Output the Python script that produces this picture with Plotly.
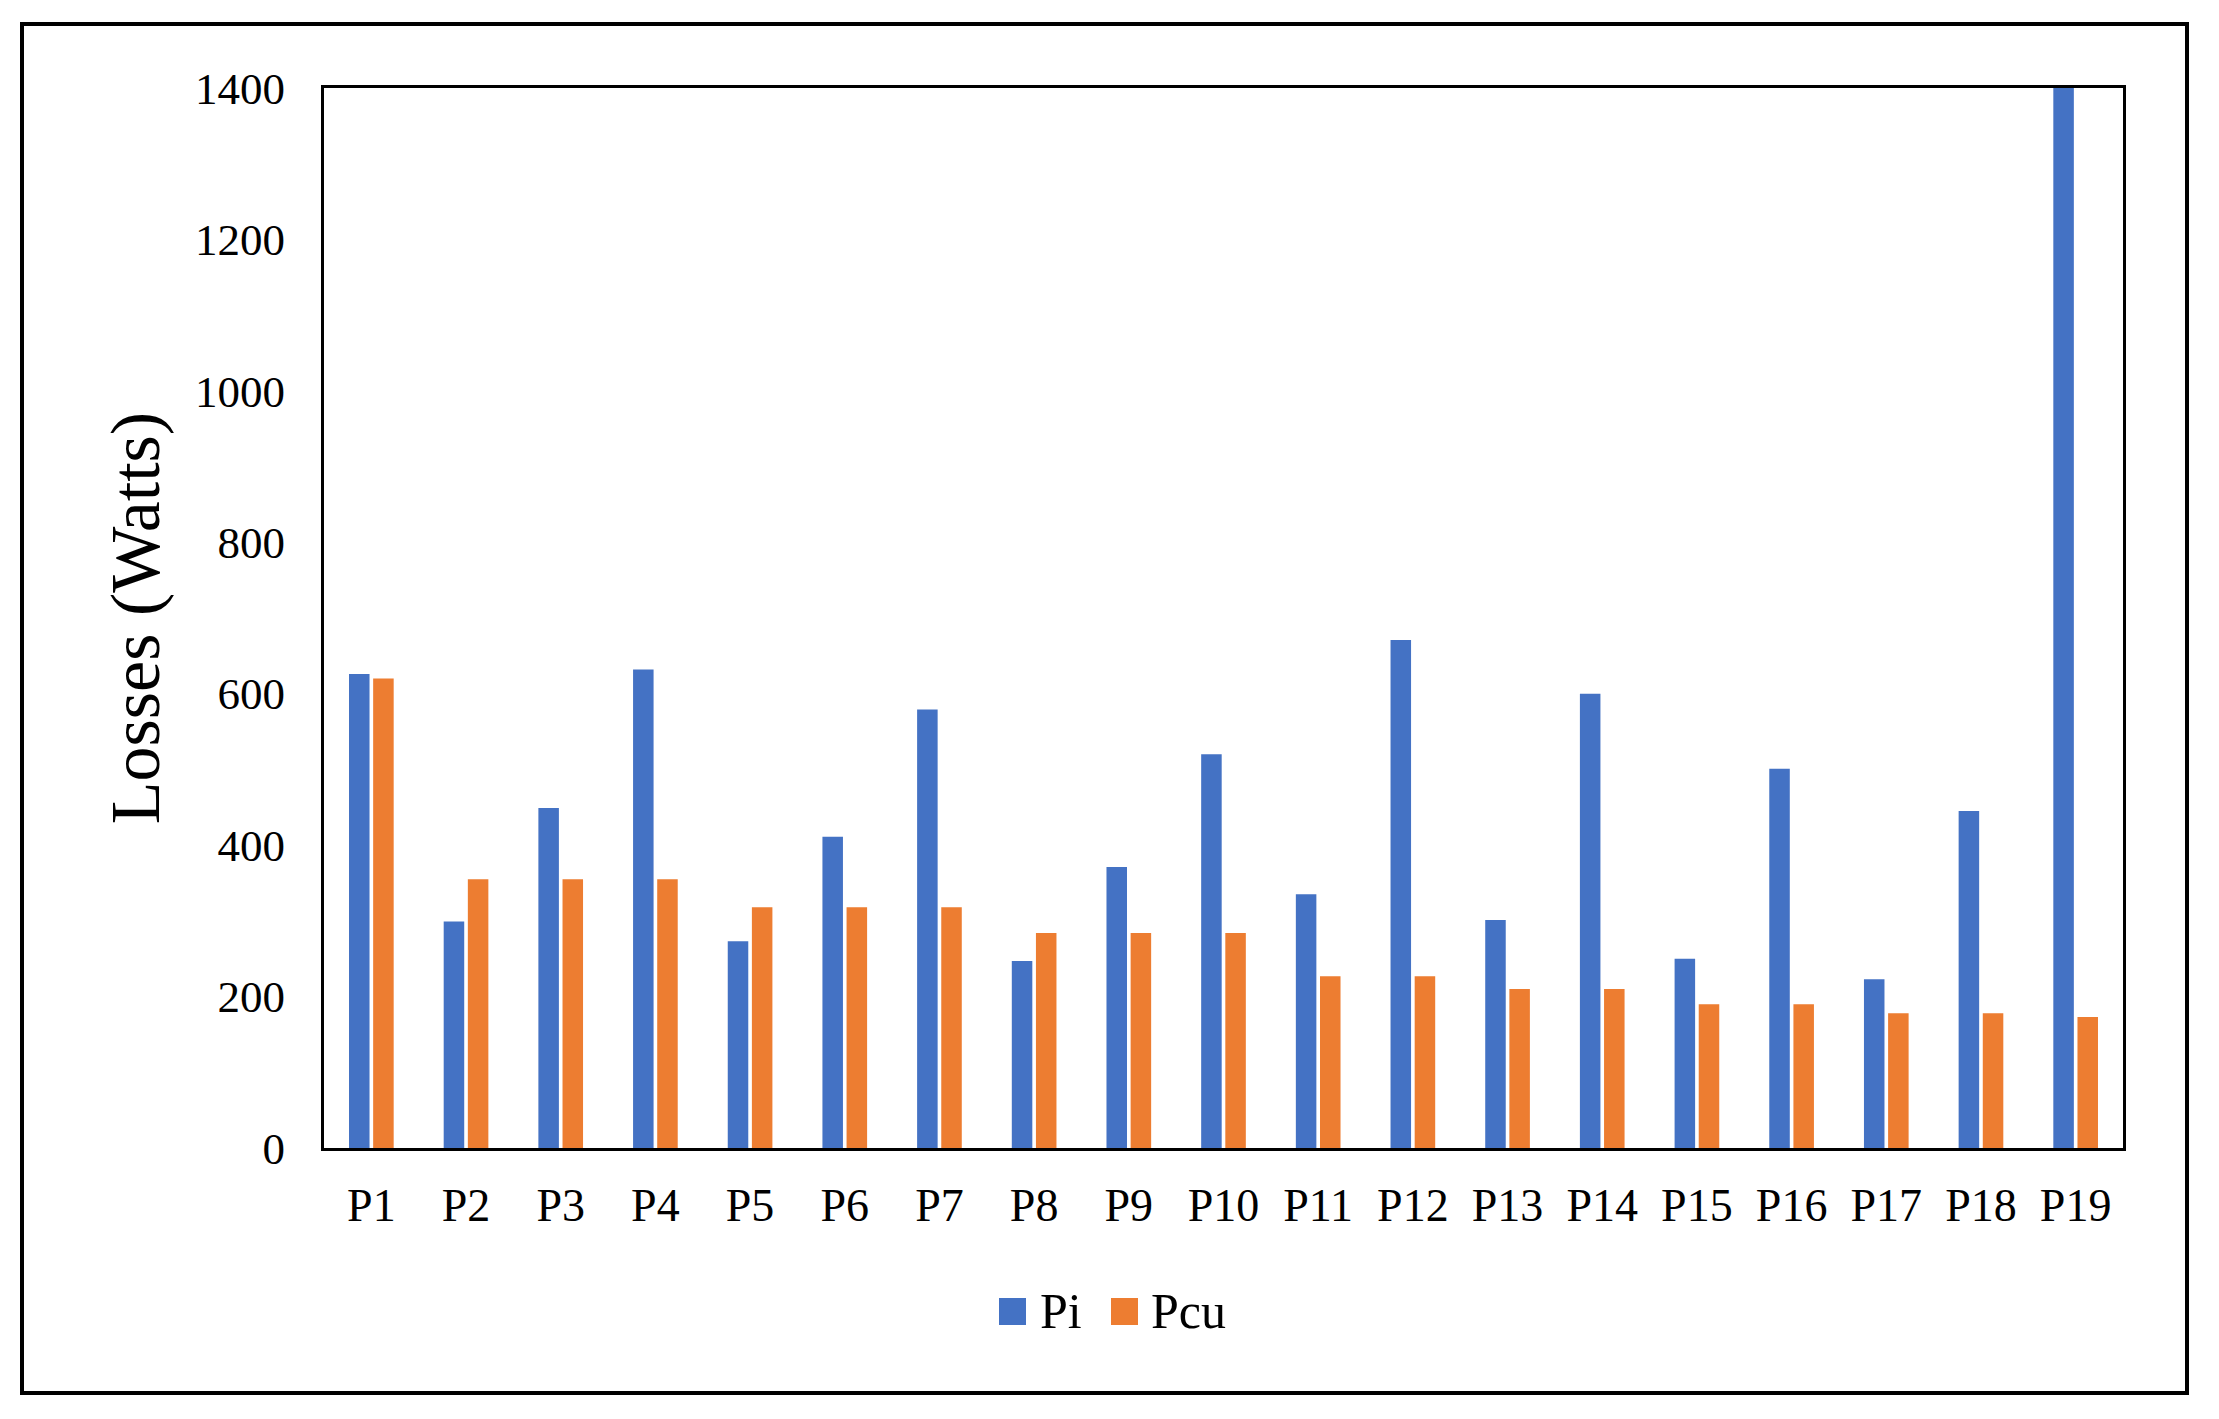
import plotly.graph_objects as go

categories = [f"P{i}" for i in range(1, 20)]
pi_values = [626, 299, 449, 632, 273, 411, 579, 247, 371, 520, 335, 671, 301, 600, 250, 501, 223, 445, 1400]
pcu_values = [620, 355, 355, 355, 318, 318, 318, 284, 284, 284, 227, 227, 210, 210, 190, 190, 178, 178, 173]
y_ticks = [0, 200, 400, 600, 800, 1000, 1200, 1400]
series_names = ["Pi", "Pcu"]
colors = ["#4472C4", "#ED7D31"]

FONT = "Liberation Serif, Times New Roman, serif"
W, H = 2219, 1419
L, R, T, B = 324, 96, 88, 271
pw, ph = W - L - R, H - T - B

def px_x(x):
    return (x - L) / pw

def px_y(y):
    return (H - B - y) / ph

fig = go.Figure()
for name, vals, col in zip(series_names, [pi_values, pcu_values], colors):
    fig.add_trace(go.Bar(x=categories, y=vals, name=name, marker=dict(color=col, line=dict(width=0)),
                         showlegend=False))

fig.update_layout(
    width=W, height=H,
    margin=dict(l=L, r=R, t=T, b=B),
    paper_bgcolor="white", plot_bgcolor="white",
    barmode="group", bargap=0.49, bargroupgap=0.15,
    font=dict(family=FONT, color="black", size=45),
    xaxis=dict(showline=True, linecolor="black", linewidth=3, mirror=True, showgrid=False,
               ticks="outside", ticklen=15, tickcolor="rgba(0,0,0,0)",
               tickfont=dict(family=FONT, size=46, color="black")),
    yaxis=dict(range=[0, 1400], tickvals=y_ticks, showline=True, linecolor="black", linewidth=3,
               mirror=True, showgrid=False, zeroline=False,
               ticks="outside", ticklen=27, tickcolor="rgba(0,0,0,0)",
               tickfont=dict(family=FONT, size=45, color="black"),
               title=dict(text="Losses (Watts)", font=dict(family=FONT, size=70, color="black"), standoff=13)),
)

# outer border
fig.add_shape(type="rect", xref="paper", yref="paper",
              x0=px_x(22), x1=px_x(2187), y0=px_y(1393), y1=px_y(24),
              line=dict(color="black", width=4), fillcolor="rgba(0,0,0,0)", layer="below")

# legend (custom, to match large square swatches)
legend_items = [(series_names[0], colors[0], 999, 1038), (series_names[1], colors[1], 1111, 1149)]
for name, col, sx, tx in legend_items:
    fig.add_shape(type="rect", xref="paper", yref="paper",
                  x0=px_x(sx), x1=px_x(sx + 27), y0=px_y(1325), y1=px_y(1298),
                  line=dict(width=0), fillcolor=col)
    fig.add_annotation(xref="paper", yref="paper", x=px_x(tx), y=px_y(1311),
                       text=name, showarrow=False, xanchor="left", yanchor="middle",
                       font=dict(family=FONT, size=50, color="black"))

fig.write_html("out.html", config={"displayModeBar": False},
               post_script="document.body.style.margin='0px';")
